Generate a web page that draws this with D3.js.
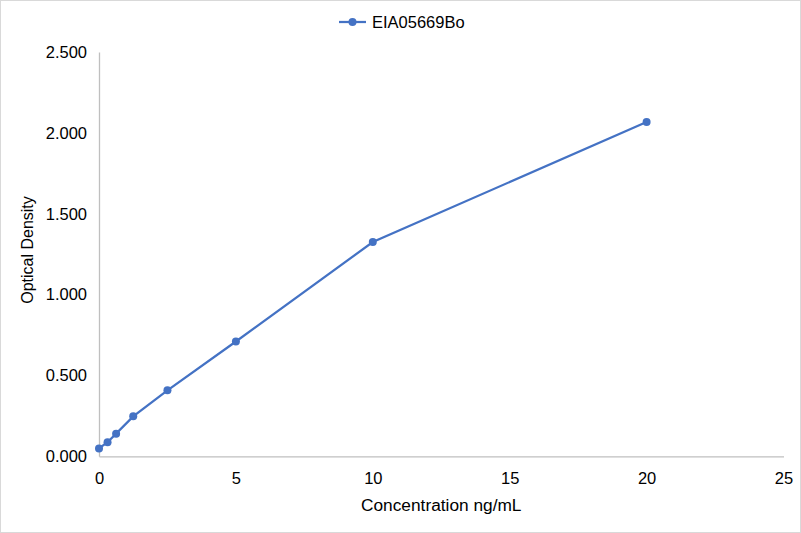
<!DOCTYPE html>
<html>
<head>
<meta charset="utf-8">
<script src="https://cdn.jsdelivr.net/npm/d3@7"></script>
<style>
  body { margin: 0; background: #fff; }
  svg { display: block; font-family: "Liberation Sans", Arial, sans-serif; }
</style>
</head>
<body>
<div id="chart"></div>
<script>
const seriesName = "EIA05669Bo";
const concentrations = [0, 0.3125, 0.625, 1.25, 2.5, 5, 10, 20];
const densities = [0.049, 0.087, 0.140, 0.247, 0.408, 0.710, 1.325, 2.067];
const xTicks = [0, 5, 10, 15, 20, 25];
const yTicks = [0, 0.5, 1.0, 1.5, 2.0, 2.5];

const W = 801, H = 533;
const margin = { top: 52, right: 17.5, bottom: 76.7, left: 99 };
const width = W - margin.left - margin.right;
const height = H - margin.top - margin.bottom;
const blue = "#4472c4";

const svg = d3.select("#chart").append("svg")
    .attr("width", W)
    .attr("height", H);

// outer chart border
svg.append("rect")
    .attr("x", 0.5).attr("y", 0.5)
    .attr("width", W - 1).attr("height", H - 1)
    .attr("fill", "#fff")
    .attr("stroke", "#d9d9d9");

const g = svg.append("g")
    .attr("transform", `translate(${margin.left},${margin.top})`);

const x = d3.scaleLinear().domain([0, 25]).range([0, width]);
const y = d3.scaleLinear().domain([0, 2.5]).range([height, 0]);

const xAxis = g.append("g")
    .attr("transform", `translate(0,${height})`)
    .call(d3.axisBottom(x).tickValues(xTicks).tickSize(0).tickPadding(16).tickFormat(d3.format("d")));

const yAxis = g.append("g")
    .call(d3.axisLeft(y).tickValues(yTicks).tickSize(0).tickPadding(12).tickFormat(d3.format(".3f")));

[xAxis, yAxis].forEach(a => {
    a.select(".domain").attr("stroke", "#bfbfbf").attr("stroke-width", 1.3);
    a.selectAll("text")
        .attr("fill", "#000")
        .style("font-size", "16.5px")
        .style("font-family", "'Liberation Sans', Arial, sans-serif");
});

const points = concentrations.map((c, i) => ({ x: c, y: densities[i] }));

const line = d3.line()
    .x(d => x(d.x))
    .y(d => y(d.y));

g.append("path")
    .datum(points)
    .attr("fill", "none")
    .attr("stroke", blue)
    .attr("stroke-width", 2.25)
    .attr("d", line);

g.selectAll(".dot")
    .data(points)
    .enter()
    .append("circle")
    .attr("class", "dot")
    .attr("cx", d => x(d.x))
    .attr("cy", d => y(d.y))
    .attr("r", 4)
    .attr("fill", blue);

// axis titles
svg.append("text")
    .attr("x", margin.left + width / 2)
    .attr("y", 511)
    .attr("text-anchor", "middle")
    .style("font-size", "17.3px")
    .text("Concentration ng/mL");

svg.append("text")
    .attr("transform", "translate(33,250) rotate(-90)")
    .attr("text-anchor", "middle")
    .style("font-size", "16px")
    .text("Optical Density");

// legend
const legend = svg.append("g").attr("transform", "translate(339,22)");
legend.append("line")
    .attr("x1", 0).attr("x2", 27)
    .attr("y1", 0).attr("y2", 0)
    .attr("stroke", blue).attr("stroke-width", 2.25);
legend.append("circle")
    .attr("cx", 13.5).attr("cy", 0).attr("r", 4)
    .attr("fill", blue);
legend.append("text")
    .attr("x", 33).attr("y", 6.3)
    .style("font-size", "16.5px")
    .text(seriesName);
</script>
</body>
</html>
